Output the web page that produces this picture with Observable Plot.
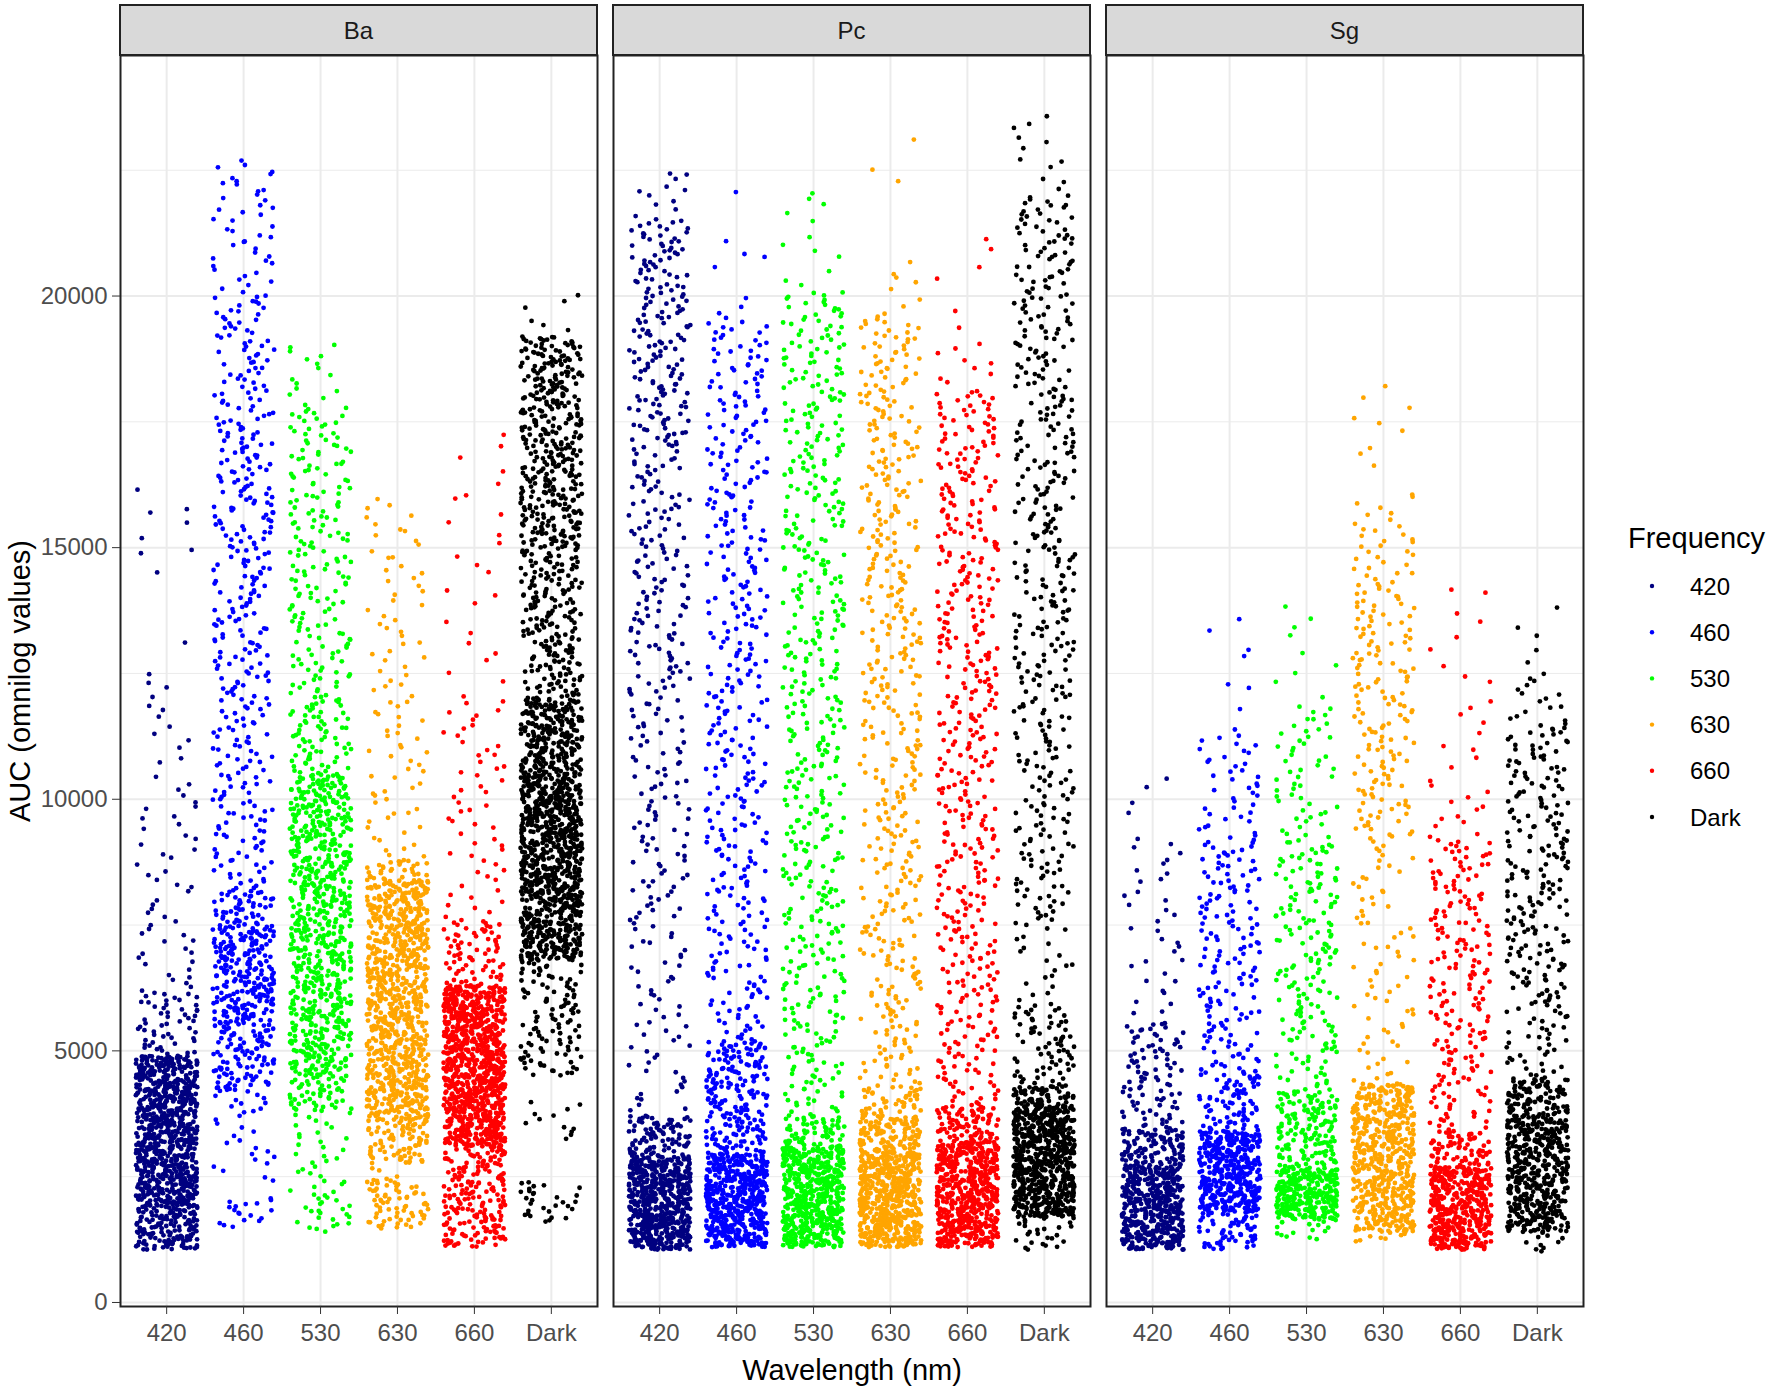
<!DOCTYPE html>
<html>
<head>
<meta charset="utf-8">
<script src="https://cdn.jsdelivr.net/npm/d3@7"></script>
<script src="https://cdn.jsdelivr.net/npm/@observablehq/plot@0.6"></script>
<style>
  html, body { margin: 0; padding: 0; background: #ffffff; }
  #chart svg { display: block; }
</style>
</head>
<body>
<div id="chart"></div>
<script>
// ---------- data ----------
const panels = ["Ba", "Pc", "Sg"];
const wavelengths = ["420", "460", "530", "630", "660", "Dark"];
const colours = ["#000080", "#0000FF", "#00FF00", "#FFA500", "#FF0000", "#000000"];
const yTicks = [0, 5000, 10000, 15000, 20000];
const yMinorTicks = [2500, 7500, 12500, 17500, 22500];

// each group: segments [from AUC, to AUC, number of points]
const Ba_420 = [[1050,1900,150],[1900,4900,800],[4900,6200,55],[6200,7700,20],[7700,10100,25],[10100,12000,12],[12000,12600,4],[13000,13300,1],[14500,15500,5],[15500,16200,3]];
const Ba_460 = [[1500,2100,18],[2400,2700,4],[2700,3800,15],[3800,4200,10],[4200,5500,100],[5500,7500,230],[7500,8200,50],[8200,12000,110],[12000,15000,95],[15000,17500,90],[17500,20000,70],[20000,22700,45]];
const Ba_530 = [[1400,2200,25],[2200,3800,30],[3800,4500,50],[4500,10500,700],[10500,12000,70],[12000,15800,120],[15800,17800,60],[17800,19100,15]];
const Ba_630 = [[1470,2460,70],[2460,2760,3],[2760,3600,80],[3600,8400,850],[8400,8800,30],[8800,12000,45],[12000,13700,20],[13700,16000,25]];
const Ba_660 = [[1100,3100,200],[3100,6300,900],[6300,7600,70],[7600,12000,55],[12000,17300,25]];
const Ba_Dark = [[1600,2400,30],[3200,4000,12],[4500,6800,110],[6800,8000,250],[8000,10500,600],[10500,12000,250],[12000,15000,200],[15000,19200,380],[19200,20100,6]];

const Pc_420 = [[1050,2900,560],[2900,3700,90],[3700,7500,55],[7500,12100,90],[12100,17000,130],[17000,21500,170],[21500,22500,12]];
const Pc_460 = [[1100,2950,520],[2950,5200,200],[5200,12000,190],[12000,19500,200],[19500,20000,4],[20500,21100,4],[21900,22100,1]];
const Pc_530 = [[1100,3100,560],[3100,3700,60],[3700,12000,260],[12000,20100,250],[20100,22200,12]];
const Pc_630 = [[1100,3000,560],[3000,3700,110],[3700,4300,45],[4300,7500,95],[7500,12100,130],[12100,19600,230],[19600,20700,8],[22000,22600,2],[23100,23250,1]];
const Pc_660 = [[1100,3200,560],[3200,3900,80],[3900,7500,120],[7500,12100,150],[12100,18100,200],[18100,19100,10],[19300,21400,6]];
const Pc_Dark = [[1050,1700,25],[1700,3900,650],[3900,4300,60],[4300,5900,70],[5900,7500,20],[7500,12100,120],[12100,22000,300],[22000,23700,12]];

const Sg_420 = [[1050,2700,450],[2700,3450,110],[3450,5550,90],[5550,9200,35],[9200,10600,5]];
const Sg_460 = [[1050,1800,60],[1800,3400,400],[3400,4600,80],[4600,9200,150],[9200,11300,40],[11300,13800,8]];
const Sg_530 = [[1250,1650,15],[1650,2650,300],[2650,4200,150],[4200,4900,20],[4900,9200,150],[9200,11800,50],[11800,13900,10]];
const Sg_630 = [[1200,1400,8],[1400,4350,550],[4350,9200,70],[9200,12300,90],[12300,14300,60],[14300,15500,25],[15500,16100,7],[16600,18300,9]];
const Sg_660 = [[1050,2700,420],[2700,3400,70],[3400,9200,200],[9200,10300,12],[10300,12100,10],[12100,14400,9]];
const Sg_Dark = [[1000,1400,10],[1400,3700,450],[3700,4450,100],[4450,5900,40],[5900,9200,130],[9200,11500,80],[11500,12500,15],[12500,13900,5]];

const groupTable = {
  Ba: [Ba_420, Ba_460, Ba_530, Ba_630, Ba_660, Ba_Dark],
  Pc: [Pc_420, Pc_460, Pc_530, Pc_630, Pc_660, Pc_Dark],
  Sg: [Sg_420, Sg_460, Sg_530, Sg_630, Sg_660, Sg_Dark]
};

// deterministic jitter (like geom_jitter, width 0.4)
function hash(k) {
  let t = Math.imul(k ^ 0x9e3779b9, 0x85ebca6b) >>> 0;
  t ^= t >>> 13; t = Math.imul(t, 0xc2b2ae35) >>> 0;
  t ^= t >>> 16; t = Math.imul(t, 0x27d4eb2f) >>> 0;
  t ^= t >>> 15;
  return (t >>> 0) / 4294967296;
}

const rows = [];
let k = 1;
panels.forEach((p, pi) => {
  groupTable[p].forEach((segs, gi) => {
    segs.forEach(([lo, hi, n]) => {
      for (let i = 0; i < n; i++) {
        const jy = hash(k * 2 + 1);
        const jx = hash(k * 2 + 7919);
        k++;
        rows.push({
          panel: p,
          wl: wavelengths[gi],
          xj: gi + (jx - 0.5) * 0.8,
          value: lo + (i + jy) / n * (hi - lo)
        });
      }
    });
  });
});

const FONT = "'Liberation Sans', Arial, Helvetica, sans-serif";

const chart = Plot.plot({
  width: 1772,
  height: 1390,
  marginLeft: 120,
  marginRight: 188,
  marginTop: 55,
  marginBottom: 84,
  style: { fontFamily: FONT, background: "#ffffff", overflow: "visible" },
  fx: { domain: panels, paddingInner: 0.0324, paddingOuter: 0, axis: null, label: null },
  x: { domain: [-0.6, 5.6], label: null, axis: null },
  y: { domain: [-80, 24780], label: null, axis: null },
  color: { domain: wavelengths, range: colours },
  marks: [
    Plot.gridY(yMinorTicks, { stroke: "#EBEBEB", strokeOpacity: 1, strokeWidth: 1 }),
    Plot.gridY(yTicks, { stroke: "#EBEBEB", strokeOpacity: 1, strokeWidth: 2 }),
    Plot.gridX(d3.range(wavelengths.length), { stroke: "#EBEBEB", strokeOpacity: 1, strokeWidth: 2 }),
    Plot.dot(rows, { fx: "panel", x: "xj", y: "value", fill: "wl", r: 2.4 }),
    Plot.frame({ stroke: "#222222", strokeWidth: 2 }),
    Plot.axisY(yTicks, {
      tickFormat: "d", fontSize: 24, tickSize: 8, tickPadding: 5,
      fill: "#4D4D4D", stroke: "#333333", label: null, facetAnchor: "left"
    }),
    Plot.axisX(d3.range(wavelengths.length), {
      tickFormat: i => wavelengths[i], fontSize: 24, tickSize: 8, tickPadding: 9,
      fill: "#4D4D4D", stroke: "#333333", label: null
    })
  ]
});

document.getElementById("chart").appendChild(chart);

// ---------- strips, axis titles, legend ----------
const svg = d3.select(chart.tagName.toLowerCase() === "svg" ? chart : chart.querySelector("svg"));
let fxApply, bw;
try {
  const s = chart.scale("fx");
  fxApply = v => s.apply(v);
  bw = s.bandwidth;
  if (!(bw > 0) || isNaN(fxApply("Ba"))) throw new Error("no fx");
} catch (e) {
  const b = d3.scaleBand().domain(panels).range([120, 1584]).paddingInner(0.0324).paddingOuter(0);
  fxApply = v => b(v); bw = b.bandwidth();
}

const strips = svg.append("g");
panels.forEach(p => {
  const x0 = fxApply(p);
  strips.append("rect")
    .attr("x", x0).attr("y", 5).attr("width", bw).attr("height", 50)
    .attr("fill", "#D9D9D9").attr("stroke", "#222222").attr("stroke-width", 2);
  strips.append("text")
    .attr("x", x0 + bw / 2).attr("y", 30)
    .attr("text-anchor", "middle").attr("dominant-baseline", "central")
    .attr("font-family", FONT).attr("font-size", 24).attr("fill", "#1A1A1A")
    .text(p);
});

svg.append("text")
  .attr("x", 852).attr("y", 1370)
  .attr("text-anchor", "middle").attr("dominant-baseline", "central")
  .attr("font-family", FONT).attr("font-size", 29).attr("fill", "#000")
  .text("Wavelength (nm)");

svg.append("text")
  .attr("transform", "translate(20,681) rotate(-90)")
  .attr("text-anchor", "middle").attr("dominant-baseline", "central")
  .attr("font-family", FONT).attr("font-size", 29).attr("fill", "#000")
  .text("AUC (omnilog values)");

const leg = svg.append("g").attr("text-anchor", "start");
leg.append("text")
  .attr("x", 1628).attr("y", 538)
  .attr("text-anchor", "start").attr("dominant-baseline", "central")
  .attr("font-family", FONT).attr("font-size", 29).attr("fill", "#000")
  .text("Frequency");
wavelengths.forEach((w, i) => {
  const cy = 586 + i * 46.2;
  leg.append("circle").attr("cx", 1652).attr("cy", cy).attr("r", 2.2).attr("fill", colours[i]);
  leg.append("text")
    .attr("x", 1690).attr("y", cy)
    .attr("text-anchor", "start").attr("dominant-baseline", "central")
    .attr("font-family", FONT).attr("font-size", 24).attr("fill", "#000")
    .text(w);
});
</script>
</body>
</html>
